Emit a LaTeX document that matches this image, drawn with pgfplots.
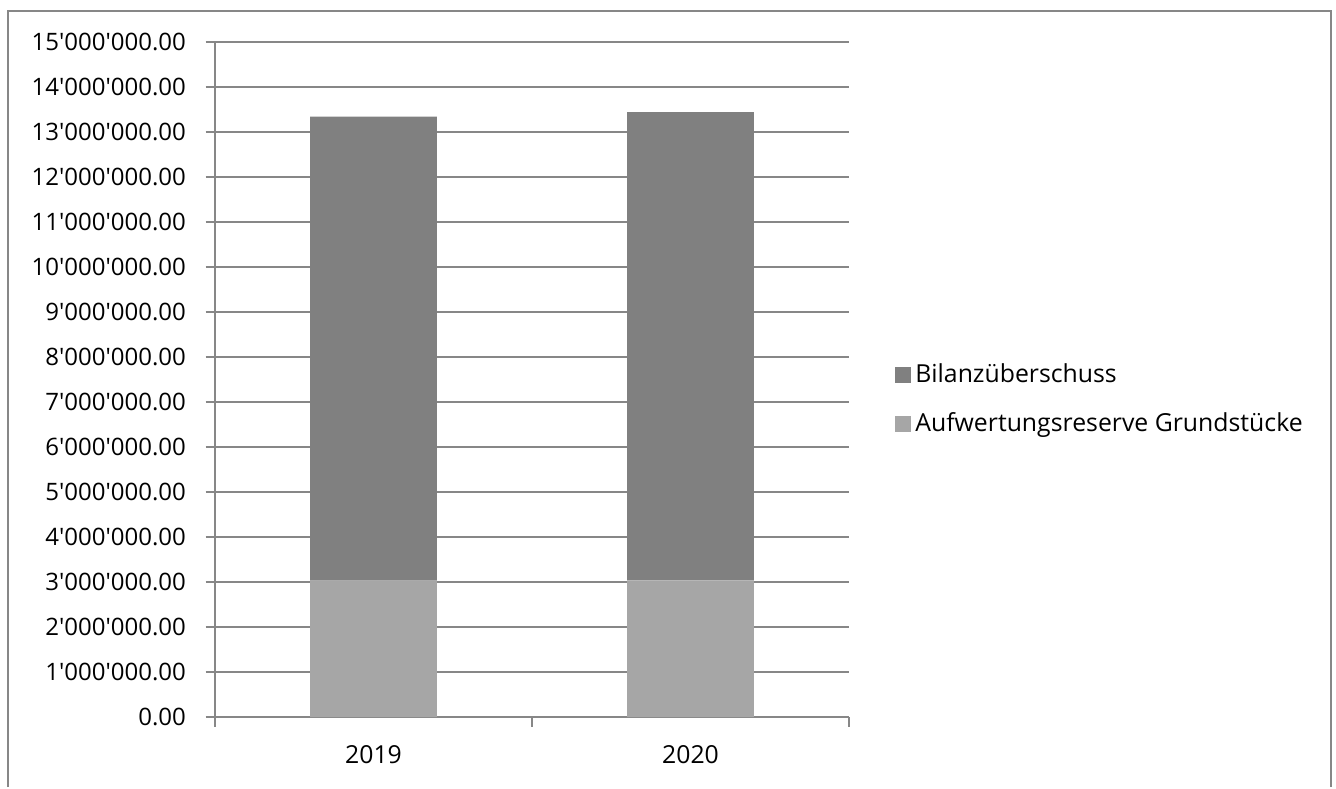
\documentclass[border=0pt]{standalone}
\usepackage{pgfplots}
\pgfplotsset{compat=1.18}
\usepackage{fontspec}
\setmainfont{Open Sans}[Ligatures=TeXOff]
\definecolor{darkbar}{HTML}{808080}
\definecolor{lightbar}{HTML}{A6A6A6}
\definecolor{gridc}{HTML}{878787}

\begin{document}
\fontsize{12.4}{15}\selectfont
\begin{tikzpicture}[x=0.5pt,y=0.5pt]
\path (0,0) rectangle (1336,782);
\draw[gridc, line width=1pt] (8,-5) -- (8,771) -- (1331,771) -- (1331,-5);
\begin{axis}[
  at={(107.5pt,32.5pt)}, anchor=south west,
  scale only axis, width=317pt, height=337.5pt,
  ybar stacked, bar width=0.4,
  xmin=-0.5, xmax=1.5, ymin=0, ymax=15000000,
  xtick={0,1}, xticklabels={2019,2020},
  ytick distance=1000000,
  scaled y ticks=false,
  yticklabel style={font=\fontsize{12}{14}\selectfont, xshift=-5.5pt, /pgf/number format/.cd, fixed, fixed zerofill, precision=2, 1000 sep={'}, assume math mode=true},
  ymajorgrids, grid style={gridc, line width=1pt},
  axis lines*=left,
  axis line style={gridc, line width=1pt, -},
  every tick/.style={gridc, line width=1pt},
  tick align=outside,
  major tick length=4.75pt,
  xtick style={draw=none},
  extra x ticks={-0.5,0.5,1.5}, extra x tick labels={},
  extra x tick style={grid=none, xtick style={draw=gridc, line width=1pt}},
  xticklabel style={yshift=-5pt},
  reverse legend,
  legend cell align=left,
  legend style={at={(1.063,0.47)}, anchor=west, draw=none, fill=none, row sep=9pt, /tikz/every even column/.append style={column sep=3pt}},
  legend image code/.code={\fill[#1] (0pt,-4pt) rectangle (8pt,4pt);},
]
\addplot[fill=lightbar, draw=none] coordinates {(0,3030000) (1,3035000)};
\addlegendentry{Aufwertungsreserve Grundstücke}
\addplot[fill=darkbar, draw=none] coordinates {(0,10310000) (1,10405000)};
\addlegendentry{Bilanzüberschuss}
\end{axis}
\end{tikzpicture}
\end{document}
